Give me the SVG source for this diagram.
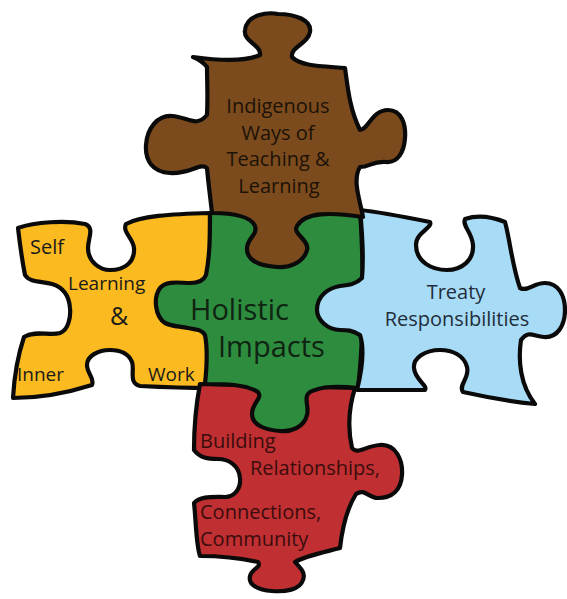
<svg xmlns="http://www.w3.org/2000/svg" width="567" height="599" viewBox="0 0 567 599">
<style>
.pc{stroke:#0a0a0a;stroke-width:4.2;stroke-linejoin:round;stroke-linecap:round}
.t{font-family:"Open Sans","Liberation Sans",sans-serif;fill:#1a1a1a}
.c{text-anchor:middle}
.r{font-size:20px;fill:#3a0d0d}
</style>
<rect width="567" height="599" fill="#ffffff"/>
<g id="connectors"></g>
<g id="yellow">
<path class="pc" fill="#FBBA1F" d="M18,228 C35,222 65,220 85,224 C95,228 88,238 88,248 C88,262 100,270 110,270 C125,270 135,262 134,248 C133,238 122,232 126,224 C140,216 170,214 210,213 L210,388 C180,388 160,387 140,386 C128,383 135,370 132,362 C128,352 118,350 110,350 C98,350 87,356 87,365 C87,374 95,378 92,385 C70,392 40,398 13,398 C14,380 18,355 24,337 C35,330 50,336 60,333 C68,330 71,318 70,308 C69,295 62,287 52,284 C42,281 30,283 25,275 C22,260 20,245 18,228 Z"/>
<text class="t" x="30" y="254" style="font-size:20px">Self</text>
<text class="t" x="68" y="290" style="font-size:19px">Learning</text>
<text class="t c" x="119" y="325" style="font-size:25px">&amp;</text>
<text class="t" x="17" y="381" style="font-size:19px">Inner</text>
<text class="t" x="148" y="381" style="font-size:19px">Work</text>
</g>
<g id="red">
<path class="pc" fill="#C02F31" d="M200,384 L355,388 C348,410 348,430 352,448 C358,455 365,446 380,445 C396,444 403,460 402,475 C401,490 392,498 378,498 C368,498 365,488 356,494 C346,510 342,530 340,548 C325,552 305,556 295,562 C300,568 306,572 303,580 C300,590 285,592 272,591 C258,590 248,585 250,576 C252,568 262,568 258,562 C240,558 220,556 200,556 C196,545 196,520 194,503 C200,496 212,497 225,497 C235,497 241,488 240,478 C239,465 228,459 218,459 C208,459 200,458 194,450 C194,430 196,405 200,384 Z"/>
<text class="t r" x="200" y="448">Building</text>
<text class="t r" x="250" y="475">Relationships,</text>
<text class="t r" x="200" y="519">Connections,</text>
<text class="t r" x="200" y="546">Community</text>
</g>
<g id="green">
<path class="pc" fill="#2E8C3E" d="M210,213 L360,210 C363,250 365,330 358,388 C340,386 325,386 315,390 C300,394 310,405 307,415 C304,428 290,432 280,431 C265,430 252,425 252,414 C252,403 263,398 258,392 C245,384 225,384 205,384 C207,365 207,345 205,335 C200,328 195,330 188,328 C180,326 173,327 165,323 C155,316 153,298 160,288 C167,280 180,283 190,283 C198,283 204,280 206,275 C210,255 210,235 210,213 Z"/>
<text class="t" x="190" y="320" style="font-size:29px;fill:#0f2412">Holistic</text>
<text class="t" x="218" y="357" style="font-size:29px;fill:#0f2412">Impacts</text>
</g>
<g id="blue">
<path class="pc" fill="#A8DCF6" d="M360,210 C380,212 410,218 430,222 C433,228 416,232 416,245 C416,262 432,270 447,270 C462,270 474,260 473,245 C472,232 462,226 465,219 C480,214 495,218 505,222 C510,240 512,265 520,288 C528,292 533,283 545,283 C558,283 565,295 565,310 C565,326 557,338 544,337 C533,336 528,330 521,340 C518,360 520,385 535,404 C515,402 490,398 463,392 C458,385 470,378 467,367 C464,355 452,350 440,350 C425,350 413,358 414,368 C415,380 428,385 425,390 C400,390 380,390 357,390 C362,370 365,350 360,335 C352,330 347,330 340,330 C328,330 317,320 317,310 C317,296 328,288 340,286 C350,285 356,284 362,278 C364,255 362,230 360,210 Z"/>
<text class="t c" x="456" y="299" style="font-size:20px;fill:#1f2d3a">Treaty</text>
<text class="t c" x="457" y="326" style="font-size:20px;fill:#1f2d3a">Responsibilities</text>
</g>
<g id="brown">
<path class="pc" fill="#7B4B1D" d="M193,57 C215,60 245,62 260,55 C262,45 243,42 245,30 C247,14 268,12 278,14 C295,14 312,20 310,32 C308,44 290,47 292,57 C300,66 320,66 345,68 C348,90 350,110 360,130 C368,130 372,110 388,110 C402,110 406,125 405,138 C404,152 398,163 386,162 C372,161 370,167 360,167 C352,180 360,200 363,217 C330,212 305,212 297,226 C292,234 310,240 307,250 C304,262 290,268 277,267 C262,266 248,262 247,250 C246,238 258,236 255,226 C250,215 230,213 212,213 C210,195 208,180 207,168 C200,162 192,174 170,173 C152,172 145,160 146,145 C147,128 158,115 172,116 C188,117 196,128 207,115 C208,95 207,80 207,67 C203,62 198,59 193,57 Z"/>
<text class="t c" x="278" y="113" style="font-size:20px;fill:#1c1208">Indigenous</text>
<text class="t c" x="278" y="140" style="font-size:20px;fill:#1c1208">Ways of</text>
<text class="t c" x="278" y="166" style="font-size:20px;fill:#1c1208">Teaching &amp;</text>
<text class="t c" x="279" y="193" style="font-size:20px;fill:#1c1208">Learning</text>
</g>
</svg>
